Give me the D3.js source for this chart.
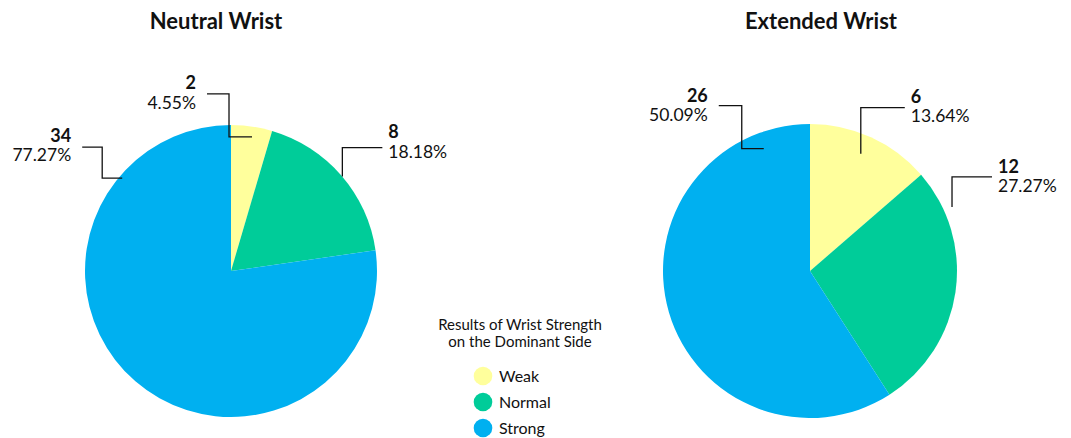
<!DOCTYPE html>
<html lang="en">
  <head>
    <meta charset="utf-8" />
    <title>Results of Wrist Strength</title>
    <script src="https://cdn.jsdelivr.net/npm/d3@7"></script>
    <style>
      body { margin: 0; background: #fff; }
      svg text { font-family: Lato, "Open Sans", sans-serif; fill: #111; }
    </style>
  </head>
  <body>
    <script>
      // data
      const categories = ["Weak", "Normal", "Strong"];
      const colours = ["#ffff9c", "#00cc99", "#00b0f0"];
      const neutralValues = [2, 8, 34];
      const neutralLabels = ["4.55%", "18.18%", "77.27%"];
      const extendedValues = [6, 12, 26];
      const extendedLabels = ["13.64%", "27.27%", "50.09%"]; // as printed in the original
      const legendTitle = ["Results of Wrist Strength", "on the Dominant Side"];

      const W = 1071, H = 438;
      const svg = d3.select("body").append("svg")
        .attr("width", W).attr("height", H);

      // leader line layout per slice: anchor (angle deg, radius fraction),
      // then elbow moves, and text placement relative to the end of the leader
      const pies = [
        {
          title: "Neutral Wrist", tx: 216, cx: 231, cy: 271, r: 146,
          values: neutralValues, pcts: neutralLabels,
          leaders: [
            { a: 8.9, rf: 0.93, moves: [[-23, 0], [0, -43], [-22, 0]], side: "l", dy1: -5, dy2: 15 },
            { a: 49.7, rf: 1.0, moves: [[0, -29], [40, 0]], side: "r", dy1: -10, dy2: 10 },
            { a: 310.5, rf: 0.98, moves: [[-20, 0], [0, -31], [-20, 0]], side: "l", dy1: -5, dy2: 14 }
          ]
        },
        {
          title: "Extended Wrist", tx: 821, cx: 810, cy: 271, r: 147,
          values: extendedValues, pcts: extendedLabels,
          leaders: [
            { a: 23.4, rf: 0.87, moves: [[0, -46], [44, 0]], side: "r", dy1: -5, dy2: 14 },
            { a: 65.7, rf: 1.06, moves: [[0, -30], [40, 0]], side: "r", dy1: -4, dy2: 15 },
            { a: 339.3, rf: 0.89, moves: [[-22, 0], [0, -43], [-23, 0]], side: "l", dy1: -4, dy2: 15 }
          ]
        }
      ];

      const colour = d3.scaleOrdinal().domain(categories).range(colours);
      const pie = d3.pie().sort(null).value(d => d.value);

      pies.forEach(p => {
        const rows = categories.map((c, i) => ({ cat: c, value: p.values[i], pct: p.pcts[i] }));
        const arcs = pie(rows);
        const arc = d3.arc().innerRadius(0).outerRadius(p.r);

        svg.append("text")
          .attr("x", p.tx).attr("y", 29)
          .attr("text-anchor", "middle")
          .attr("font-size", 22).attr("font-weight", "bold")
          .text(p.title);

        const g = svg.append("g").attr("transform", `translate(${p.cx},${p.cy})`);
        g.selectAll("path.slice")
          .data(arcs)
          .join("path")
          .attr("class", "slice")
          .attr("d", arc)
          .attr("fill", d => colour(d.data.cat));

        // leader lines + labels
        arcs.forEach((d, i) => {
          const L = p.leaders[i];
          const ang = L.a * Math.PI / 180;
          let x = Math.sin(ang) * p.r * L.rf, y = -Math.cos(ang) * p.r * L.rf;
          const pts = [[x, y]];
          L.moves.forEach(m => { x += m[0]; y += m[1]; pts.push([x, y]); });
          g.append("path")
            .attr("d", d3.line()(pts))
            .attr("fill", "none")
            .attr("stroke", "#111")
            .attr("stroke-width", 1.3);
          const tx = L.side === "l" ? x - 11 : x + 6;
          const anchor = L.side === "l" ? "end" : "start";
          g.append("text")
            .attr("x", tx).attr("y", y + L.dy1)
            .attr("text-anchor", anchor)
            .attr("font-size", 18).attr("font-weight", "bold")
            .text(d.data.value);
          g.append("text")
            .attr("x", tx).attr("y", y + L.dy2)
            .attr("text-anchor", anchor)
            .attr("font-size", 17.5)
            .text(d.data.pct);
        });
      });

      // legend
      const lg = svg.append("g");
      lg.selectAll("text.lt")
        .data(legendTitle)
        .join("text")
        .attr("class", "lt")
        .attr("x", 520).attr("y", (d, i) => 330 + i * 17)
        .attr("text-anchor", "middle")
        .attr("font-size", 15)
        .text(d => d);
      const items = lg.selectAll("g.item")
        .data(categories)
        .join("g")
        .attr("class", "item")
        .attr("transform", (d, i) => `translate(483,${376 + i * 26})`);
      items.append("circle").attr("r", 9.3).attr("fill", d => colour(d));
      items.append("text")
        .attr("x", 16).attr("y", 6)
        .attr("font-size", 16)
        .text(d => d);
    </script>
  </body>
</html>
